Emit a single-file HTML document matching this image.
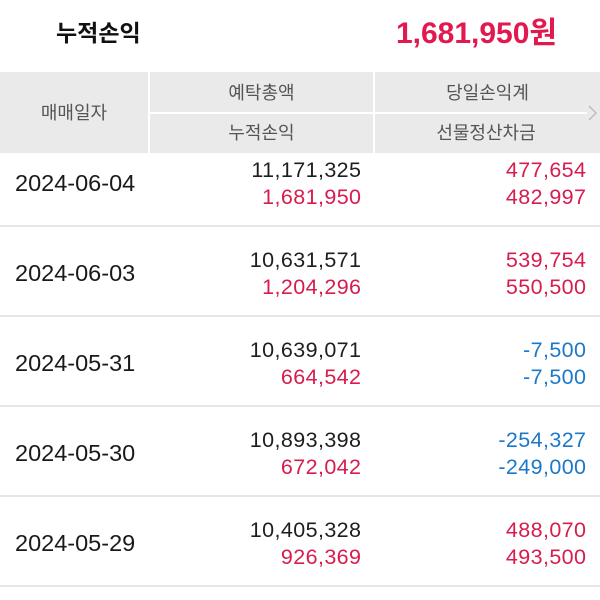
<!DOCTYPE html>
<html>
<head>
<meta charset="utf-8">
<style>
  html,body{margin:0;padding:0;background:#fff;}
  body{width:600px;height:600px;position:relative;overflow:hidden;font-family:"Liberation Sans","Noto Sans CJK KR",sans-serif;}
  .abs{position:absolute;white-space:nowrap;}
  .title{left:56px;top:19px;font-size:23px;line-height:28px;font-weight:bold;color:#111;font-family:"Liberation Sans","Noto Sans CJK KR",sans-serif;}
  .amount{right:43px;top:16px;font-size:30px;line-height:36px;font-weight:bold;color:#e2194f;font-family:"Liberation Sans","Noto Sans CJK KR",sans-serif;}
  .hdr{position:absolute;left:0;top:72px;width:600px;height:81px;background:#eaeaea;z-index:5;}
  .vdiv{position:absolute;top:0;width:2px;height:81px;background:#fff;}
  .hdiv{position:absolute;left:150px;top:40px;width:437px;height:2px;background:#fff;}
  .hl{position:absolute;font-size:18px;line-height:20px;color:#555;text-align:center;font-family:"Liberation Sans","Noto Sans CJK KR",sans-serif;}
  .sep{position:absolute;left:0;width:600px;height:2px;background:#e6e6e6;}
  .date{position:absolute;left:15px;font-size:23.5px;line-height:24px;color:#1a1a1a;}
  .num{position:absolute;font-size:21.5px;line-height:20px;text-align:right;letter-spacing:0.4px;}
  .mid{right:238.6px;}
  .rgt{right:13.6px;}
  .k{color:#1e1e1e;}
  .r{color:#d71c4e;}
  .b{color:#1c78c8;}
</style>
</head>
<body>
<div class="abs title">누적손익</div>
<div class="abs amount">1,681,950원</div>

<!-- row 1 top 136 -->
<div class="date" style="top:170.5px">2024-06-04</div>
<div class="num mid k" style="top:159.5px">11,171,325</div>
<div class="num mid r" style="top:186.5px">1,681,950</div>
<div class="num rgt r" style="top:159.5px">477,654</div>
<div class="num rgt r" style="top:186.5px">482,997</div>
<div class="sep" style="top:225px"></div>

<!-- row 2 top 226 -->
<div class="date" style="top:260.5px">2024-06-03</div>
<div class="num mid k" style="top:249.5px">10,631,571</div>
<div class="num mid r" style="top:276.5px">1,204,296</div>
<div class="num rgt r" style="top:249.5px">539,754</div>
<div class="num rgt r" style="top:276.5px">550,500</div>
<div class="sep" style="top:315px"></div>

<!-- row 3 top 316 -->
<div class="date" style="top:350.5px">2024-05-31</div>
<div class="num mid k" style="top:339.5px">10,639,071</div>
<div class="num mid r" style="top:366.5px">664,542</div>
<div class="num rgt b" style="top:339.5px">-7,500</div>
<div class="num rgt b" style="top:366.5px">-7,500</div>
<div class="sep" style="top:405px"></div>

<!-- row 4 top 406 -->
<div class="date" style="top:440.5px">2024-05-30</div>
<div class="num mid k" style="top:429.5px">10,893,398</div>
<div class="num mid r" style="top:456.5px">672,042</div>
<div class="num rgt b" style="top:429.5px">-254,327</div>
<div class="num rgt b" style="top:456.5px">-249,000</div>
<div class="sep" style="top:495px"></div>

<!-- row 5 top 496 -->
<div class="date" style="top:530.5px">2024-05-29</div>
<div class="num mid k" style="top:519.5px">10,405,328</div>
<div class="num mid r" style="top:546.5px">926,369</div>
<div class="num rgt r" style="top:519.5px">488,070</div>
<div class="num rgt r" style="top:546.5px">493,500</div>
<div class="sep" style="top:585px"></div>

<!-- header -->
<div class="hdr">
  <div class="vdiv" style="left:148px"></div>
  <div class="vdiv" style="left:373px"></div>
  <div class="hdiv"></div>
  <div class="hl" style="left:0;width:148px;top:31px">매매일자</div>
  <div class="hl" style="left:150px;width:223px;top:11px">예탁총액</div>
  <div class="hl" style="left:150px;width:223px;top:51px">누적손익</div>
  <div class="hl" style="left:375px;width:225px;top:11px">당일손익계</div>
  <div class="hl" style="left:375px;width:222px;top:51px">선물정산차금</div>
  <svg style="position:absolute;left:0;top:0" width="600" height="81">
    <polyline points="589,34 596,41 589,48" fill="none" stroke="#bdbdbd" stroke-width="1.5"/>
  </svg>
</div>
</body>
</html>
